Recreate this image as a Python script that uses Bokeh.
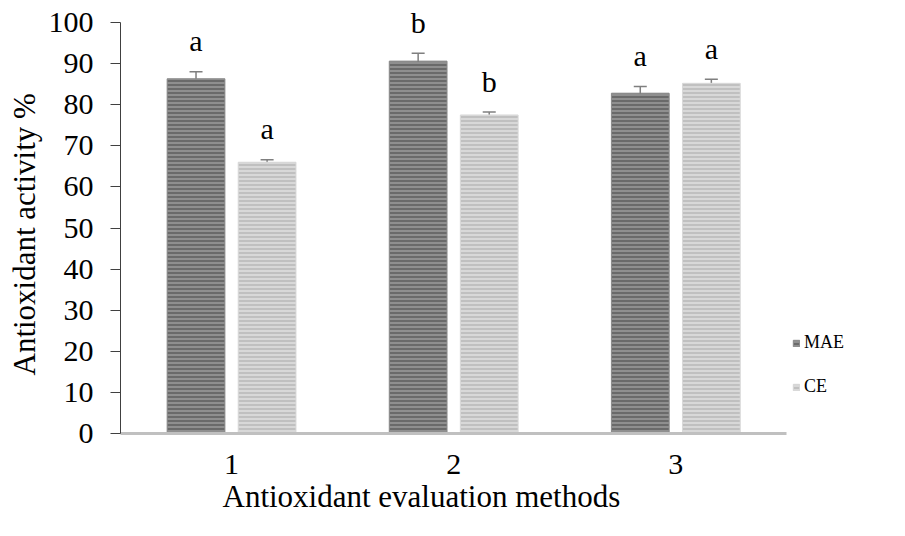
from bokeh.plotting import figure
from bokeh.models import (ColumnDataSource, Range1d, FixedTicker, Whisker, TeeHead,
                          Legend, LegendItem, LinearAxis, Title)
from bokeh.core.properties import value
from bokeh.embed import file_html
from bokeh.resources import INLINE

# ---- data ----
methods = [1, 2, 3]
method_labels = ["1", "2", "3"]
mae_values = [86.3, 90.6, 82.8]
mae_errors = [1.7, 1.9, 1.6]
mae_letters = ["a", "b", "a"]
ce_values = [66.0, 77.5, 85.2]
ce_errors = [0.6, 0.7, 1.0]
ce_letters = ["a", "b", "a"]
y_ticks = [0, 10, 20, 30, 40, 50, 60, 70, 80, 90, 100]
x_title = "Antioxidant evaluation methods"
y_title = "Antioxidant activity %"

FONT = "Liberation Serif"
OFFSET = 0.16
BAR_W = 0.26
LETTER_GAP = 7.5

# frame geometry (px): axis area 669 px wide for 3 categories, 411 px for 0..100
FRAME_L, FRAME_R, FRAME_T, FRAME_B = 117, 881, 8, 433
W, H = 889, 520
px_per_cat = 669 / 3.0
px_per_unit = 411 / 100.0
x_max = 0.5 + (FRAME_R - FRAME_L) / px_per_cat
y_max = (FRAME_B - FRAME_T) / px_per_unit

p = figure(width=W, height=H, output_backend="svg", toolbar_location=None,
           x_range=Range1d(0.5, x_max), y_range=Range1d(0, y_max),
           min_border_left=FRAME_L, min_border_right=W - FRAME_R,
           min_border_top=FRAME_T, min_border_bottom=H - FRAME_B,
           x_axis_type=None, y_axis_type=None)
p.outline_line_color = None
p.xgrid.visible = False
p.ygrid.visible = False
p.background_fill_color = "white"
p.border_fill_color = "white"

def make_source(vals, errs, letters, off):
    xs = [m + off for m in methods]
    return ColumnDataSource(dict(
        x=xs, top=vals,
        upper=[v + e for v, e in zip(vals, errs)],
        lower=[v - e for v, e in zip(vals, errs)],
        ly=[v + e + LETTER_GAP for v, e in zip(vals, errs)],
        letter=letters))

src_mae = make_source(mae_values, mae_errors, mae_letters, -OFFSET)
src_ce = make_source(ce_values, ce_errors, ce_letters, OFFSET)

r_mae = p.vbar(x="x", top="top", bottom=0, width=BAR_W, source=src_mae,
               fill_color="#6a6a6a", line_color="#8a8a8a", line_width=1,
               hatch_pattern="horizontal_line", hatch_color="#a8a8a8",
               hatch_scale=4, hatch_weight=1.2)
r_ce = p.vbar(x="x", top="top", bottom=0, width=BAR_W, source=src_ce,
              fill_color="#c0c0c0", line_color="#d8d8d8", line_width=1,
              hatch_pattern="horizontal_line", hatch_color="#e8e8e8",
              hatch_scale=4, hatch_weight=1.2)

for src in (src_mae, src_ce):
    w = Whisker(base="x", upper="upper", lower="lower", source=src,
                line_color="#7f7f7f", line_width=1.5,
                upper_head=TeeHead(size=13, line_color="#7f7f7f", line_width=1.5),
                lower_head=TeeHead(size=13, line_color="#7f7f7f", line_width=1.5))
    p.add_layout(w)
    p.text(x="x", y="ly", text="letter", source=src, text_align="center",
           text_baseline="middle", text_font=value(FONT),
           text_font_size="30px", text_color="black")

# axes
yaxis = LinearAxis(ticker=FixedTicker(ticks=y_ticks), bounds=(0, 100))
yaxis.major_label_text_font = FONT
yaxis.major_label_text_font_size = "30px"
yaxis.major_label_text_color = "black"
yaxis.major_label_standoff = 17
yaxis.major_tick_out = 10
yaxis.major_tick_in = 0
yaxis.minor_tick_line_color = None
yaxis.axis_line_color = "#404040"
yaxis.major_tick_line_color = "#404040"
p.add_layout(yaxis, "left")

xaxis = LinearAxis(ticker=FixedTicker(ticks=methods), bounds=(0.5, 3.5),
                   major_label_overrides={m: l for m, l in zip(methods, method_labels)})
xaxis.major_label_text_font = FONT
xaxis.major_label_text_font_size = "30px"
xaxis.major_label_text_color = "black"
xaxis.major_label_standoff = 21
xaxis.major_tick_out = 0
xaxis.major_tick_in = 0
xaxis.major_tick_line_color = None
xaxis.minor_tick_line_color = None
xaxis.axis_line_color = "#c0c0c0"
xaxis.axis_line_width = 3
p.add_layout(xaxis, "below")

xt = Title(text=x_title, align="left", offset=102, standoff=0,
           text_font=FONT, text_font_size="31px", text_font_style="normal",
           text_color="black")
p.add_layout(xt, "below")

yt = Title(text=y_title, align="left", offset=58, standoff=8,
           text_font=FONT, text_font_size="31px", text_font_style="normal",
           text_color="black")
p.add_layout(yt, "left")

legend = Legend(items=[LegendItem(label="MAE", renderers=[r_mae]),
                       LegendItem(label="CE", renderers=[r_ce])],
                location=(672, 36), orientation="vertical")
legend.label_text_font = FONT
legend.label_text_font_size = "18px"
legend.label_text_color = "black"
legend.glyph_width = 8
legend.glyph_height = 8
legend.label_height = 20
legend.label_standoff = 4
legend.spacing = 23
legend.padding = 0
legend.margin = 0
legend.border_line_color = None
legend.background_fill_alpha = 0
p.add_layout(legend, "center")

open("out.html", "w").write(file_html(p, INLINE))
